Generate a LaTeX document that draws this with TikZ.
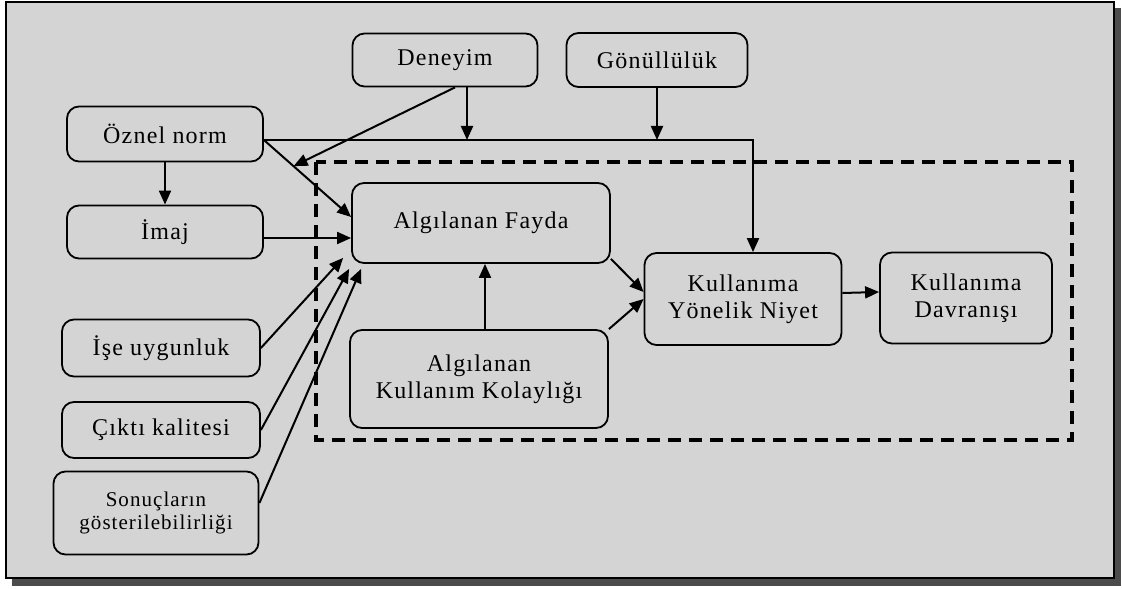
\documentclass[tikz,border=0pt]{standalone}
\usepackage{fontspec}
\setmainfont{Liberation Serif}[LetterSpace=5]
\usetikzlibrary{arrows.meta,calc}
\tikzset{
  box/.style={draw, line width=0.9pt, rounded corners=6pt, inner sep=0pt, align=center,
    font=\fontsize{12}{13.5}\selectfont},
  arr/.style={line width=1pt, -{Triangle[length=7pt,width=6pt]}},
}

\begin{document}
\begin{tikzpicture}[x=0.5pt, y=-0.5pt]
			%%%%% START %%%%%
			\useasboundingbox (0,0) rectangle (1122,588);
			
			\fill[black!70] (12,8) rectangle (1121,586);
			\draw[line width=0.8pt, fill=black!17] (6,2) rectangle (1114,578);
			
			\draw[line width=1.7pt, dash pattern=on 6.5pt off 4pt] (316,162) rectangle (1072,440);
			
			\node[box, minimum width=92.5pt, minimum height=26.5pt] (den) at (445,60) {Deneyim};
			\node[box, minimum width=90.5pt, minimum height=27pt] (gon) at (657,60) {Gönüllülük};
			
			\node[box, minimum width=98pt, minimum height=27.5pt] (oz) at (165,134) {Öznel norm};
			\node[box, minimum width=98pt, minimum height=26.5pt] (imaj) at (165,232) {İmaj};
			\node[box, minimum width=99pt, minimum height=28.5pt] (ise) at (161,348) {İşe uygunluk};
			\node[box, minimum width=99pt, minimum height=28pt] (cikti) at (161,430) {Çıktı kalitesi};
			\node[box, minimum width=102.5pt, minimum height=41.5pt, font=\fontsize{10.5}{11.5}\selectfont] (sonuc) at (156,513) {Sonuçların\\gösterilebilirliği};
			
			\node[box, minimum width=129pt, minimum height=40pt] (fayda) at (481,223) {Algılanan Fayda};
			\node[box, minimum width=129pt, minimum height=49pt] (kolay) at (479,379) {Algılanan\\Kullanım Kolaylığı};
			\node[box, minimum width=98.5pt, minimum height=46pt] (niyet) at (743,299) {Kullanıma\\Yönelik Niyet};
			\node[box, minimum width=86pt, minimum height=45.5pt] (davr) at (966,298) {Kullanıma\\Davranışı};
			
			\coordinate (ozs) at ([yshift=-3pt]oz.east);
			\coordinate (fin) at ([yshift=3pt]fayda.west);
			\coordinate (mod) at ($(ozs)!0.34!(fin)$);
			\coordinate (dend) at ([xshift=11pt]den.south);
			\coordinate (imo) at ([yshift=-3pt]imaj.east);
			\coordinate (kf) at ([xshift=3pt]kolay.north);
			
			\draw[arr] (oz) -- (imaj);
			\draw[arr] (imo) -- (imo -| fayda.west);
			\draw[arr] (ozs) -- (fin);
			\draw[arr] ([xshift=5pt]den.south) -- (mod);
			\draw[arr] (dend) -- (dend |- ozs);
			\draw[arr] (gon.south) -- (gon.south |- ozs);
			\draw[arr] (ozs) -| ([xshift=5pt]niyet.north);
			
			\draw[arr] (ise.east) -- ([shift={(-4pt,3pt)}]fayda.south west);
			\draw[arr] (cikti.east) -- ([shift={(-1pt,-2.5pt)}]fayda.south west);
			\draw[arr] ([yshift=5pt]sonuc.east) -- ([shift={(5pt,-2.5pt)}]fayda.south west);
			
			\draw[arr] (kf) -- (kf |- fayda.south);
			\draw[arr] ([yshift=2.5pt]fayda.south east) -- ([yshift=3.5pt]niyet.west);
			\draw[arr] (kolay.north east) -- (niyet.west);
			\draw[arr] ([yshift=3pt]niyet.east) -- ([yshift=3pt]davr.west);
			
			%%%%% END %%%%%
\end{tikzpicture}
\end{document}
